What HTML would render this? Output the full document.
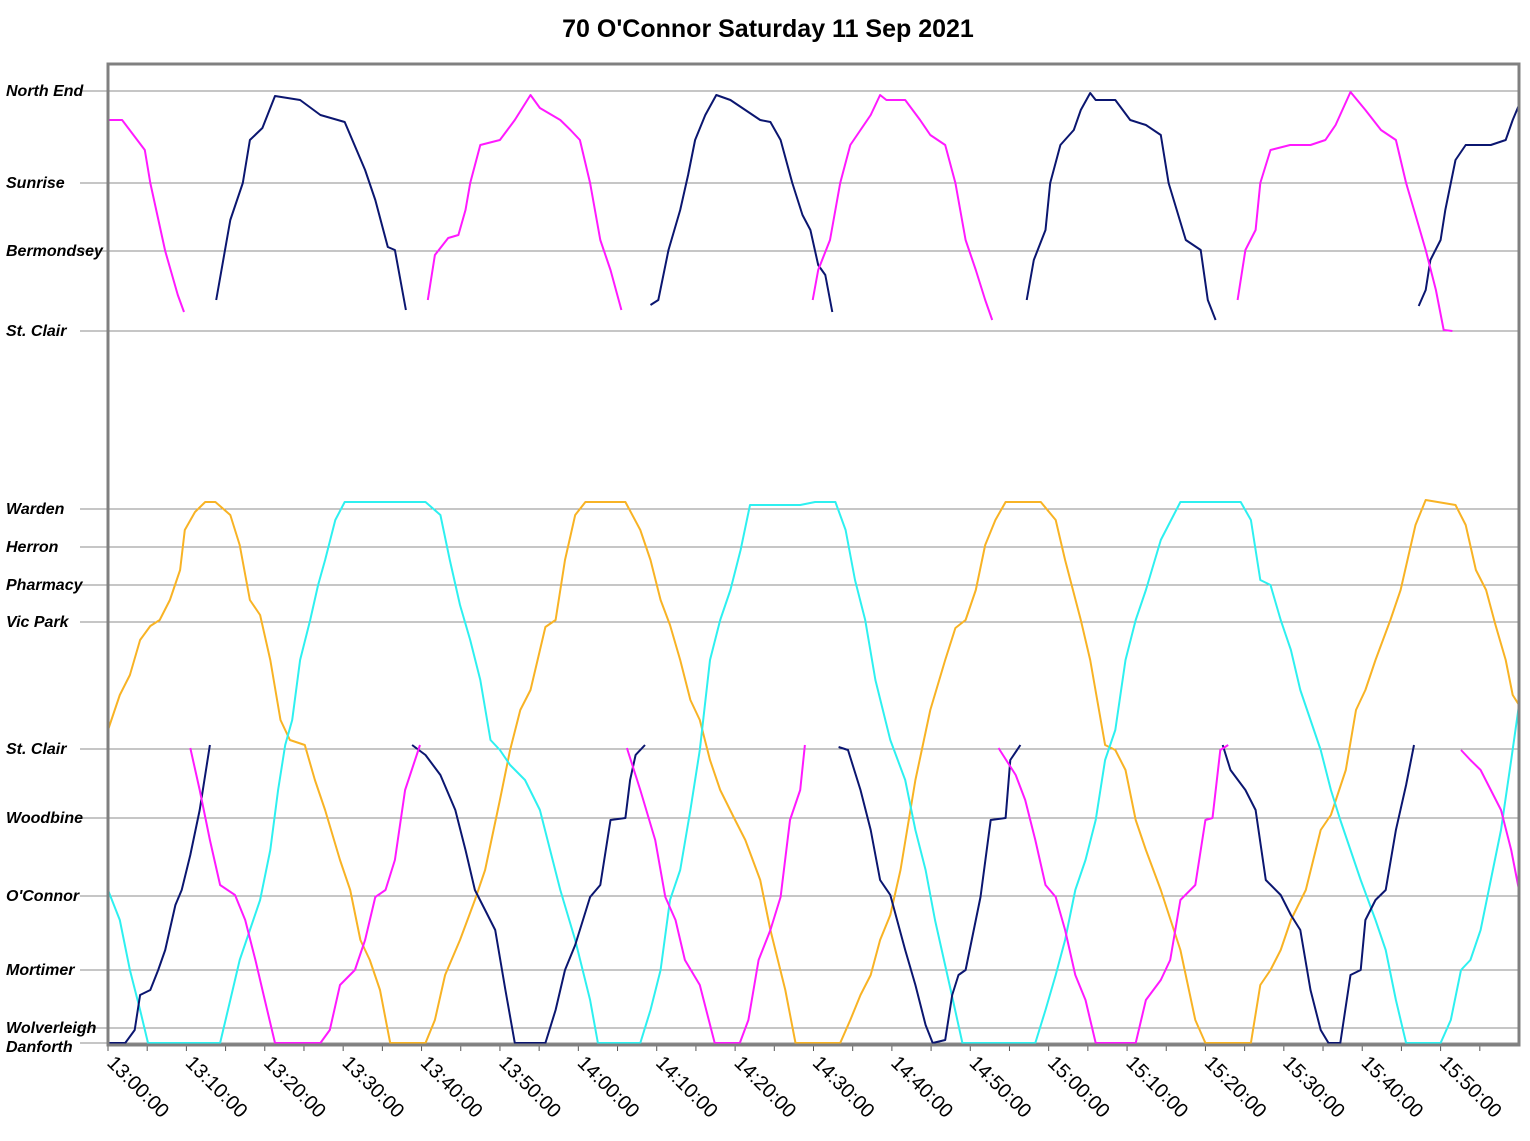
<!DOCTYPE html>
<html><head><meta charset="utf-8"><title>70 O'Connor Saturday 11 Sep 2021</title>
<style>
html,body{margin:0;padding:0;background:#fff;}
svg{display:block;font-family:"Liberation Sans",Arial,sans-serif;}
.st{font-weight:bold;font-style:italic;font-size:16px;fill:#000;}
.tk{font-size:20px;fill:#000;}
</style></head>
<body>
<svg id="chart" width="1530" height="1141" viewBox="0 0 1530 1141" xmlns="http://www.w3.org/2000/svg">
<rect width="1530" height="1141" fill="#fff"/>
<text x="768" y="37" text-anchor="middle" font-size="25" font-weight="bold">70 O'Connor Saturday 11 Sep 2021</text>
<g id="grid"></g>
<g id="ylabels"></g>
<g id="xlabels"></g>
<g id="series"></g>
<rect x="108" y="64" width="1411" height="981" fill="none" stroke="#808080" stroke-width="3"/>
</svg>
<script>
const stationNames = ["North End","Sunrise","Bermondsey","St. Clair","Warden","Herron","Pharmacy","Vic Park","St. Clair","Woodbine","O'Connor","Mortimer","Wolverleigh","Danforth"];
const stationValues = [954,862,794,714,536,498,460,423,296,227,149,75,17,2];
const tickMinutes = [0,10,20,30,40,50,60,70,80,90,100,110,120,130,140,150,160,170];
const tickLabels = ["13:00:00","13:10:00","13:20:00","13:30:00","13:40:00","13:50:00","14:00:00","14:10:00","14:20:00","14:30:00","14:40:00","14:50:00","15:00:00","15:10:00","15:20:00","15:30:00","15:40:00","15:50:00"];
const minorTickStep = 5;

const navyUpper = [
 [[13.8,745],[15.6,825],[17.2,862],[18.1,905],[19.7,917],[21.3,949],[24.5,945],[27.1,930],[30.2,923],[32.8,875],[34.1,845],[35.7,798],[36.6,795],[38.0,735]],
 [[69.2,740],[70.2,745],[71.5,795],[73.0,835],[74.0,870],[74.9,905],[76.2,930],[77.6,950],[79.4,945],[81.3,935],[83.2,925],[84.5,923],[85.8,905],[87.3,862],[88.6,830],[89.6,815],[90.6,780],[91.5,770],[92.4,733]],
 [[117.2,745],[118.1,785],[119.6,815],[120.2,862],[121.5,900],[123.2,915],[124.1,935],[125.3,952],[126.0,945],[128.5,945],[130.4,925],[132.4,920],[134.3,910],[135.3,862],[137.5,805],[139.4,795],[140.3,745],[141.3,725]],
 [[167.2,739],[168.1,755],[168.7,785],[170.0,805],[170.6,835],[171.9,885],[173.2,900],[176.4,900],[178.3,905],[179.2,925],[180,940]]
];
const magentaUpper = [
 [[0,925],[1.8,925],[4.7,895],[5.4,862],[7.3,794],[8.9,750],[9.7,733]],
 [[40.8,745],[41.7,790],[43.4,807],[44.7,810],[45.6,835],[46.2,862],[47.5,900],[50.0,905],[51.9,925],[53.9,950],[55.1,937],[57.7,925],[59.0,915],[60.2,905],[61.5,862],[62.8,805],[64.1,775],[65.5,735]],
 [[89.9,745],[90.6,775],[92.1,805],[93.4,862],[94.7,900],[96.0,915],[97.3,930],[98.5,950],[99.3,945],[101.7,945],[103.6,925],[104.9,910],[106.8,900],[108.1,862],[109.4,805],[110.7,775],[111.9,745],[112.8,725]],
 [[144.1,745],[145.1,795],[146.4,815],[147.0,862],[148.3,895],[150.8,900],[153.4,900],[155.3,905],[156.6,920],[158.5,953],[160.4,935],[162.4,915],[164.3,905],[165.6,862],[166.8,830],[168.1,795],[169.4,755],[170.4,715],[171.5,714]]
];
const navyLower = [
 [[0,2],[2.2,2],[3.4,15],[4.1,50],[5.4,55],[6.4,75],[7.3,95],[8.6,140],[9.4,155],[10.5,190],[11.7,235],[13.0,300]],
 [[38.8,300],[40.5,290],[42.4,270],[44.3,235],[45.6,195],[46.8,155],[48.1,135],[49.4,115],[50.7,55],[51.9,2],[55.8,2],[57.1,35],[58.3,75],[59.6,100],[61.5,148],[62.8,160],[64.1,225],[66.0,227],[66.6,265],[67.3,290],[68.5,300]],
 [[93.2,298],[94.4,295],[96.0,255],[97.3,215],[98.5,165],[99.8,150],[101.7,95],[103.0,60],[104.3,20],[105.2,2],[106.8,5],[107.7,50],[108.5,70],[109.4,75],[111.3,148],[112.6,225],[114.5,227],[115.1,285],[116.4,300]],
 [[142.2,300],[143.2,275],[145.1,255],[146.4,235],[147.7,165],[149.6,150],[150.9,130],[152.1,115],[153.4,55],[154.7,15],[155.7,2],[157.2,2],[158.5,70],[159.8,75],[160.4,125],[161.7,145],[163.0,155],[164.3,215],[165.6,260],[166.6,300]]
];
const magentaLower = [
 [[10.5,297],[11.7,255],[13.0,205],[14.3,160],[16.2,150],[17.5,125],[18.8,85],[20.0,45],[21.3,2],[27.1,2],[28.3,15],[29.6,60],[31.5,75],[32.8,105],[34.1,148],[35.4,155],[36.6,185],[37.9,255],[39.8,300]],
 [[66.2,297],[67.9,255],[69.8,205],[71.1,148],[72.4,125],[73.6,85],[75.5,60],[77.4,2],[80.6,2],[81.7,25],[83.0,85],[84.5,115],[85.8,148],[87.0,225],[88.3,255],[88.9,300]],
 [[113.6,297],[115.8,270],[117.0,245],[118.3,205],[119.6,160],[120.9,148],[122.1,115],[123.4,70],[124.7,45],[126.0,2],[131.1,2],[132.4,45],[134.3,65],[135.5,85],[136.8,145],[138.7,160],[140.0,225],[140.9,227],[141.9,295],[142.9,300]],
 [[172.6,295],[173.8,285],[175.1,275],[176.4,255],[177.7,235],[179.0,195],[180,155]]
];
const orangeTrips = [
 [[0,315],[1.5,350],[2.8,370],[4.1,405],[5.4,419],[6.6,425],[7.9,445],[9.2,475],[9.8,515],[11.1,533],[12.4,543],[13.7,543],[15.6,530],[16.8,500],[18.1,445],[19.4,430],[20.7,385],[22.0,325],[23.2,305],[25.1,300],[26.4,265],[27.7,235],[29.6,185],[30.9,155],[32.2,105],[33.4,85],[34.7,55],[36.0,2],[40.5,2],[41.7,25],[43.0,70],[44.9,105],[46.8,145],[48.1,175],[50.0,245],[51.3,295],[52.6,335],[53.9,355],[55.8,418],[57.1,425],[58.3,485],[59.6,530],[60.9,543],[66.0,543],[67.9,515],[69.2,485],[70.5,445],[71.7,420],[73.0,385],[74.3,345],[75.5,325],[76.8,285],[78.1,255],[80.0,225],[81.3,205],[83.2,165],[84.5,115],[86.4,55],[87.7,2],[93.4,2],[94.7,25],[96.0,50],[97.3,70],[98.5,105],[99.8,130],[101.1,175],[103.0,265],[104.9,335],[106.8,385],[108.1,417],[109.4,425],[110.7,455],[111.9,500],[113.2,525],[114.5,543],[119.0,543],[120.9,525],[122.1,485],[124.1,425],[125.3,385],[127.2,300],[128.5,295],[129.8,275],[131.1,225],[132.4,195],[134.3,155],[136.8,95],[138.7,25],[140.0,2],[145.8,2],[147.0,60],[148.3,75],[149.6,95],[150.9,125],[152.8,155],[154.7,215],[156.0,230],[157.9,275],[159.2,335],[160.4,355],[161.7,385],[163.6,425],[164.9,455],[166.8,520],[168.1,545],[171.9,540],[173.2,520],[174.5,475],[175.8,455],[177.0,420],[178.3,385],[179.2,350],[180,340]]
];
const cyanTrips = [
 [[0,155],[1.5,125],[2.8,75],[4.1,35],[5.1,2],[14.3,2],[15.6,45],[16.8,85],[18.1,115],[19.4,145],[20.7,195],[21.7,255],[22.6,300],[23.5,325],[24.5,385],[25.8,425],[26.8,460],[27.7,485],[29.0,525],[30.2,543],[40.5,543],[42.4,530],[43.6,485],[44.9,440],[46.2,405],[47.5,365],[48.8,305],[50.0,295],[51.3,280],[53.2,265],[55.1,235],[56.4,195],[57.7,155],[59.6,105],[61.5,45],[62.5,2],[67.9,2],[69.2,35],[70.5,75],[71.7,145],[73.0,175],[74.3,235],[75.5,295],[76.8,385],[78.1,425],[79.4,455],[80.7,495],[81.9,540],[88.3,540],[90.2,543],[92.8,543],[94.1,515],[95.3,465],[96.6,425],[97.9,365],[99.8,305],[101.7,265],[103.0,215],[104.3,175],[105.5,125],[107.5,55],[109.0,2],[118.3,2],[119.6,35],[120.9,70],[122.1,105],[123.4,155],[124.7,185],[126.0,225],[127.2,285],[128.5,315],[129.8,385],[131.1,425],[132.4,455],[134.3,505],[136.8,543],[144.5,543],[145.8,525],[147.0,465],[148.3,460],[149.6,425],[150.9,395],[152.1,355],[153.4,325],[154.7,295],[156.0,255],[157.2,225],[158.5,195],[159.8,165],[161.7,125],[163.0,95],[164.3,45],[165.6,2],[170.0,2],[171.3,25],[172.6,75],[173.8,85],[175.1,115],[176.4,165],[177.7,215],[179.0,285],[180,340]]
];

const X0=108, X1=1519, Y0=1045, Y1=64, TMAX=180, VMAX=981;
function xScale(t){return X0 + t*(X1-X0)/TMAX;}
function yScale(v){return Y0 - v*(Y0-Y1)/VMAX;}
const NS="http://www.w3.org/2000/svg";
function mk(tag,attrs,parent){const e=document.createElementNS(NS,tag);for(const k in attrs)e.setAttribute(k,attrs[k]);parent.appendChild(e);return e;}

const grid=document.getElementById('grid'), yl=document.getElementById('ylabels'), xl=document.getElementById('xlabels'), series=document.getElementById('series');
stationValues.forEach((v,i)=>{
  const y=yScale(v);
  const ln=mk('line',{x1:80,x2:X1,y1:y,y2:y,stroke:'#8c8c8c','stroke-width':1},grid);
  
  
  let ty=y+5;
  if(stationNames[i]==="Danforth") ty=y+9;
  const t=mk('text',{x:6,y:ty,'class':'st'},yl);
  t.textContent=stationNames[i];
  
  
});
for(let m=0;m<TMAX;m+=minorTickStep){
  const x=xScale(m);
  const tk=mk('line',{x1:x,x2:x,y1:Y0,y2:Y0+6,stroke:'#555','stroke-width':1},xl);
  
  
}
tickMinutes.forEach((m,i)=>{
  const x=xScale(m);
  const t=mk('text',{x:0,y:0,'class':'tk',transform:'translate('+(x-2)+','+(Y0+19)+') rotate(45)'},xl);
  t.textContent=tickLabels[i];
  
  
});
function drawTrips(trips,color,name){
  trips.forEach((trip)=>{
    const pts=trip.map(p=>xScale(p[0]).toFixed(1)+','+yScale(p[1]).toFixed(1)).join(' ');
    const pl=mk('polyline',{points:pts,fill:'none',stroke:color,'stroke-width':2,'stroke-linejoin':'round'},series);
    
    
  });
}
drawTrips(orangeTrips,'#f8b325','orange-bus-trip');
drawTrips(cyanTrips,'#2ef0f0','cyan-bus-trip');
drawTrips(navyLower,'#0b1670','navy-bus-trip-lower');
drawTrips(magentaLower,'#ff1aff','magenta-bus-trip-lower');
drawTrips(navyUpper,'#0b1670','navy-bus-trip-upper');
drawTrips(magentaUpper,'#ff1aff','magenta-bus-trip-upper');
</script>
</body></html>
